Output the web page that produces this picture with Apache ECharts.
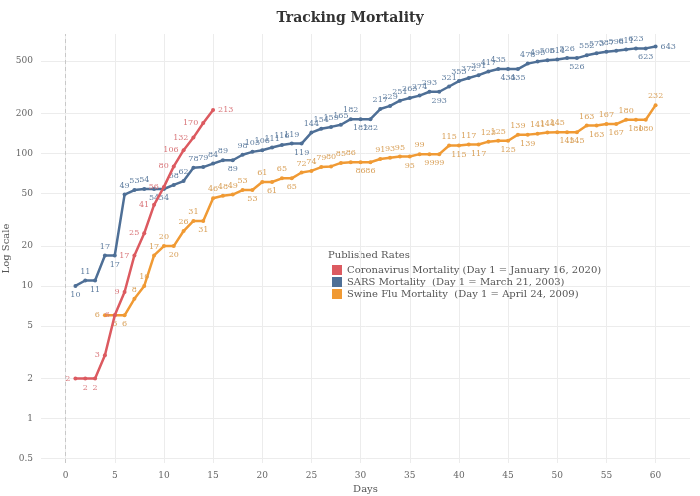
<!DOCTYPE html>
<html>
<head>
<meta charset="utf-8">
<script src="https://cdn.jsdelivr.net/npm/echarts@6/dist/echarts.min.js"></script>
<style>html,body{margin:0;padding:0;background:#fff}#c{width:700px;height:496px}</style>
</head>
<body>
<div id="c"></div>
<script>
const coronaDays = [1,2,3,4,5,6,7,8,9,10,11,12,13,14,15];
const coronaValues = [2,2,2,3,6,9,17,25,41,56,80,106,132,170,213];

const sarsDays = [1,2,3,4,5,6,7,8,9,10,11,12,13,14,15,16,17,18,19,20,21,22,23,24,25,26,27,28,29,30,31,32,33,34,35,36,37,38,39,40,41,42,43,44,45,46,47,48,49,50,51,52,53,54,55,56,57,58,59,60];
const sarsValues = [10,11,11,17,17,49,53,54,54,54,58,62,78,79,84,89,89,98,103,106,111,116,119,119,144,154,159,165,182,182,182,217,229,251,263,274,293,293,321,353,372,391,417,435,435,435,478,495,506,514,526,526,552,573,587,598,611,623,623,643];

const fluDays = [4,5,6,7,8,9,10,11,12,13,14,15,16,17,18,19,20,21,22,23,24,25,26,27,28,29,30,31,32,33,34,35,36,37,38,39,40,41,42,43,44,45,46,47,48,49,50,51,52,53,54,55,56,57,58,59,60];
const fluValues = [6,6,6,8,10,17,20,20,26,31,31,46,48,49,53,53,61,61,65,65,72,74,79,80,85,86,86,86,91,93,95,95,99,99,99,115,115,117,117,123,125,125,139,139,141,144,145,145,145,163,163,167,167,180,180,180,232];

const xTicks = [0,5,10,15,20,25,30,35,40,45,50,55,60];
const yTicks = [0.5,1,2,5,10,20,50,100,200,500];

const names = {
  corona: 'Coronavirus Mortality (Day 1 = January 16, 2020)',
  sars: 'SARS Mortality  (Day 1 = March 21, 2003)',
  flu: 'Swine Flu Mortality  (Day 1 = April 24, 2009)'
};
const colors = { corona: '#dc5a60', sars: '#4e6f96', flu: '#f09a34' };
const labelColors = { corona: '#d9767a', sars: '#5f7d9f', flu: '#d9a15a' };
const FONT = 'DejaVu Serif';

function build(days, values, kind) {
  return values.map((v, i) => {
    let pos;
    if (kind === 'corona') {
      pos = (i > 0 && v === values[i - 1]) ? 'bottom' : (i === values.length - 1 ? 'right' : 'left');
    } else if (i === 0) {
      pos = kind === 'sars' ? 'bottom' : 'left';
    } else if (i === values.length - 1 && kind === 'sars') {
      pos = 'right';
    } else {
      pos = v > values[i - 1] ? 'top' : 'bottom';
    }
    return { value: [days[i], v], label: { position: pos } };
  });
}

function series(kind, days, values) {
  return {
    name: names[kind],
    type: 'line',
    data: build(days, values, kind),
    symbol: 'circle',
    symbolSize: 4,
    lineStyle: { width: 2.5, color: colors[kind] },
    itemStyle: { color: colors[kind] },
    label: {
      show: true,
      fontSize: 8,
      fontFamily: FONT,
      color: labelColors[kind],
      distance: 3
    },
    labelLayout: { hideOverlap: false },
    emphasis: { disabled: true },
    z: kind === 'corona' ? 5 : 3
  };
}

const chart = echarts.init(document.getElementById('c'), null, { renderer: 'canvas' });
const sarsSeries = series('sars', sarsDays, sarsValues);
sarsSeries.markLine = {
  silent: true,
  symbol: 'none',
  label: { show: false },
  lineStyle: { color: '#c8c8c8', type: [4, 3], width: 1 },
  data: [{ xAxis: 0 }],
  z: 1
};
chart.setOption({
  animation: false,
  backgroundColor: '#ffffff',
  title: {
    text: 'Tracking Mortality',
    left: 'center',
    top: 6,
    textStyle: { fontFamily: FONT, fontWeight: 'bold', fontSize: 14, color: '#333' }
  },
  grid: { left: 41, right: 10, top: 34, bottom: 33, containLabel: false, outerBoundsMode: 'none' },
  legend: {
    orient: 'vertical',
    left: 327,
    top: 260,
    itemWidth: 10,
    itemHeight: 10,
    itemGap: 2,
    icon: 'rect',
    textStyle: { fontFamily: FONT, fontSize: 10, color: '#555' },
    data: [names.corona, names.sars, names.flu]
  },
  graphic: [{
    type: 'text',
    left: 328,
    top: 250,
    style: { text: 'Published Rates', font: '10px "DejaVu Serif"', fill: '#555' }
  }],
  xAxis: {
    type: 'value',
    min: -2.5,
    max: 63.5,
    name: 'Days',
    nameLocation: 'middle',
    nameGap: 21,
    nameTextStyle: { fontFamily: FONT, fontSize: 10, color: '#555' },
    axisLine: { show: false },
    axisTick: { show: false, customValues: xTicks },
    axisLabel: { customValues: xTicks, fontFamily: FONT, fontSize: 9, color: '#666', margin: 8 },
    splitLine: { show: true, lineStyle: { color: '#ececec', width: 1 } }
  },
  yAxis: {
    type: 'log',
    logBase: 10,
    min: 0.46,
    max: 800,
    name: 'Log Scale',
    nameLocation: 'middle',
    nameGap: 30,
    nameMoveOverlap: false,
    nameTextStyle: { fontFamily: FONT, fontSize: 10, color: '#555' },
    axisLine: { show: false },
    axisTick: { show: false, customValues: yTicks },
    axisLabel: { customValues: yTicks, fontFamily: FONT, fontSize: 9, color: '#666', margin: 8 },
    splitLine: { show: true, lineStyle: { color: '#ececec', width: 1 } }
  },
  series: [
    series('corona', coronaDays, coronaValues),
    sarsSeries,
    series('flu', fluDays, fluValues)
  ]
});
</script>
</body>
</html>
